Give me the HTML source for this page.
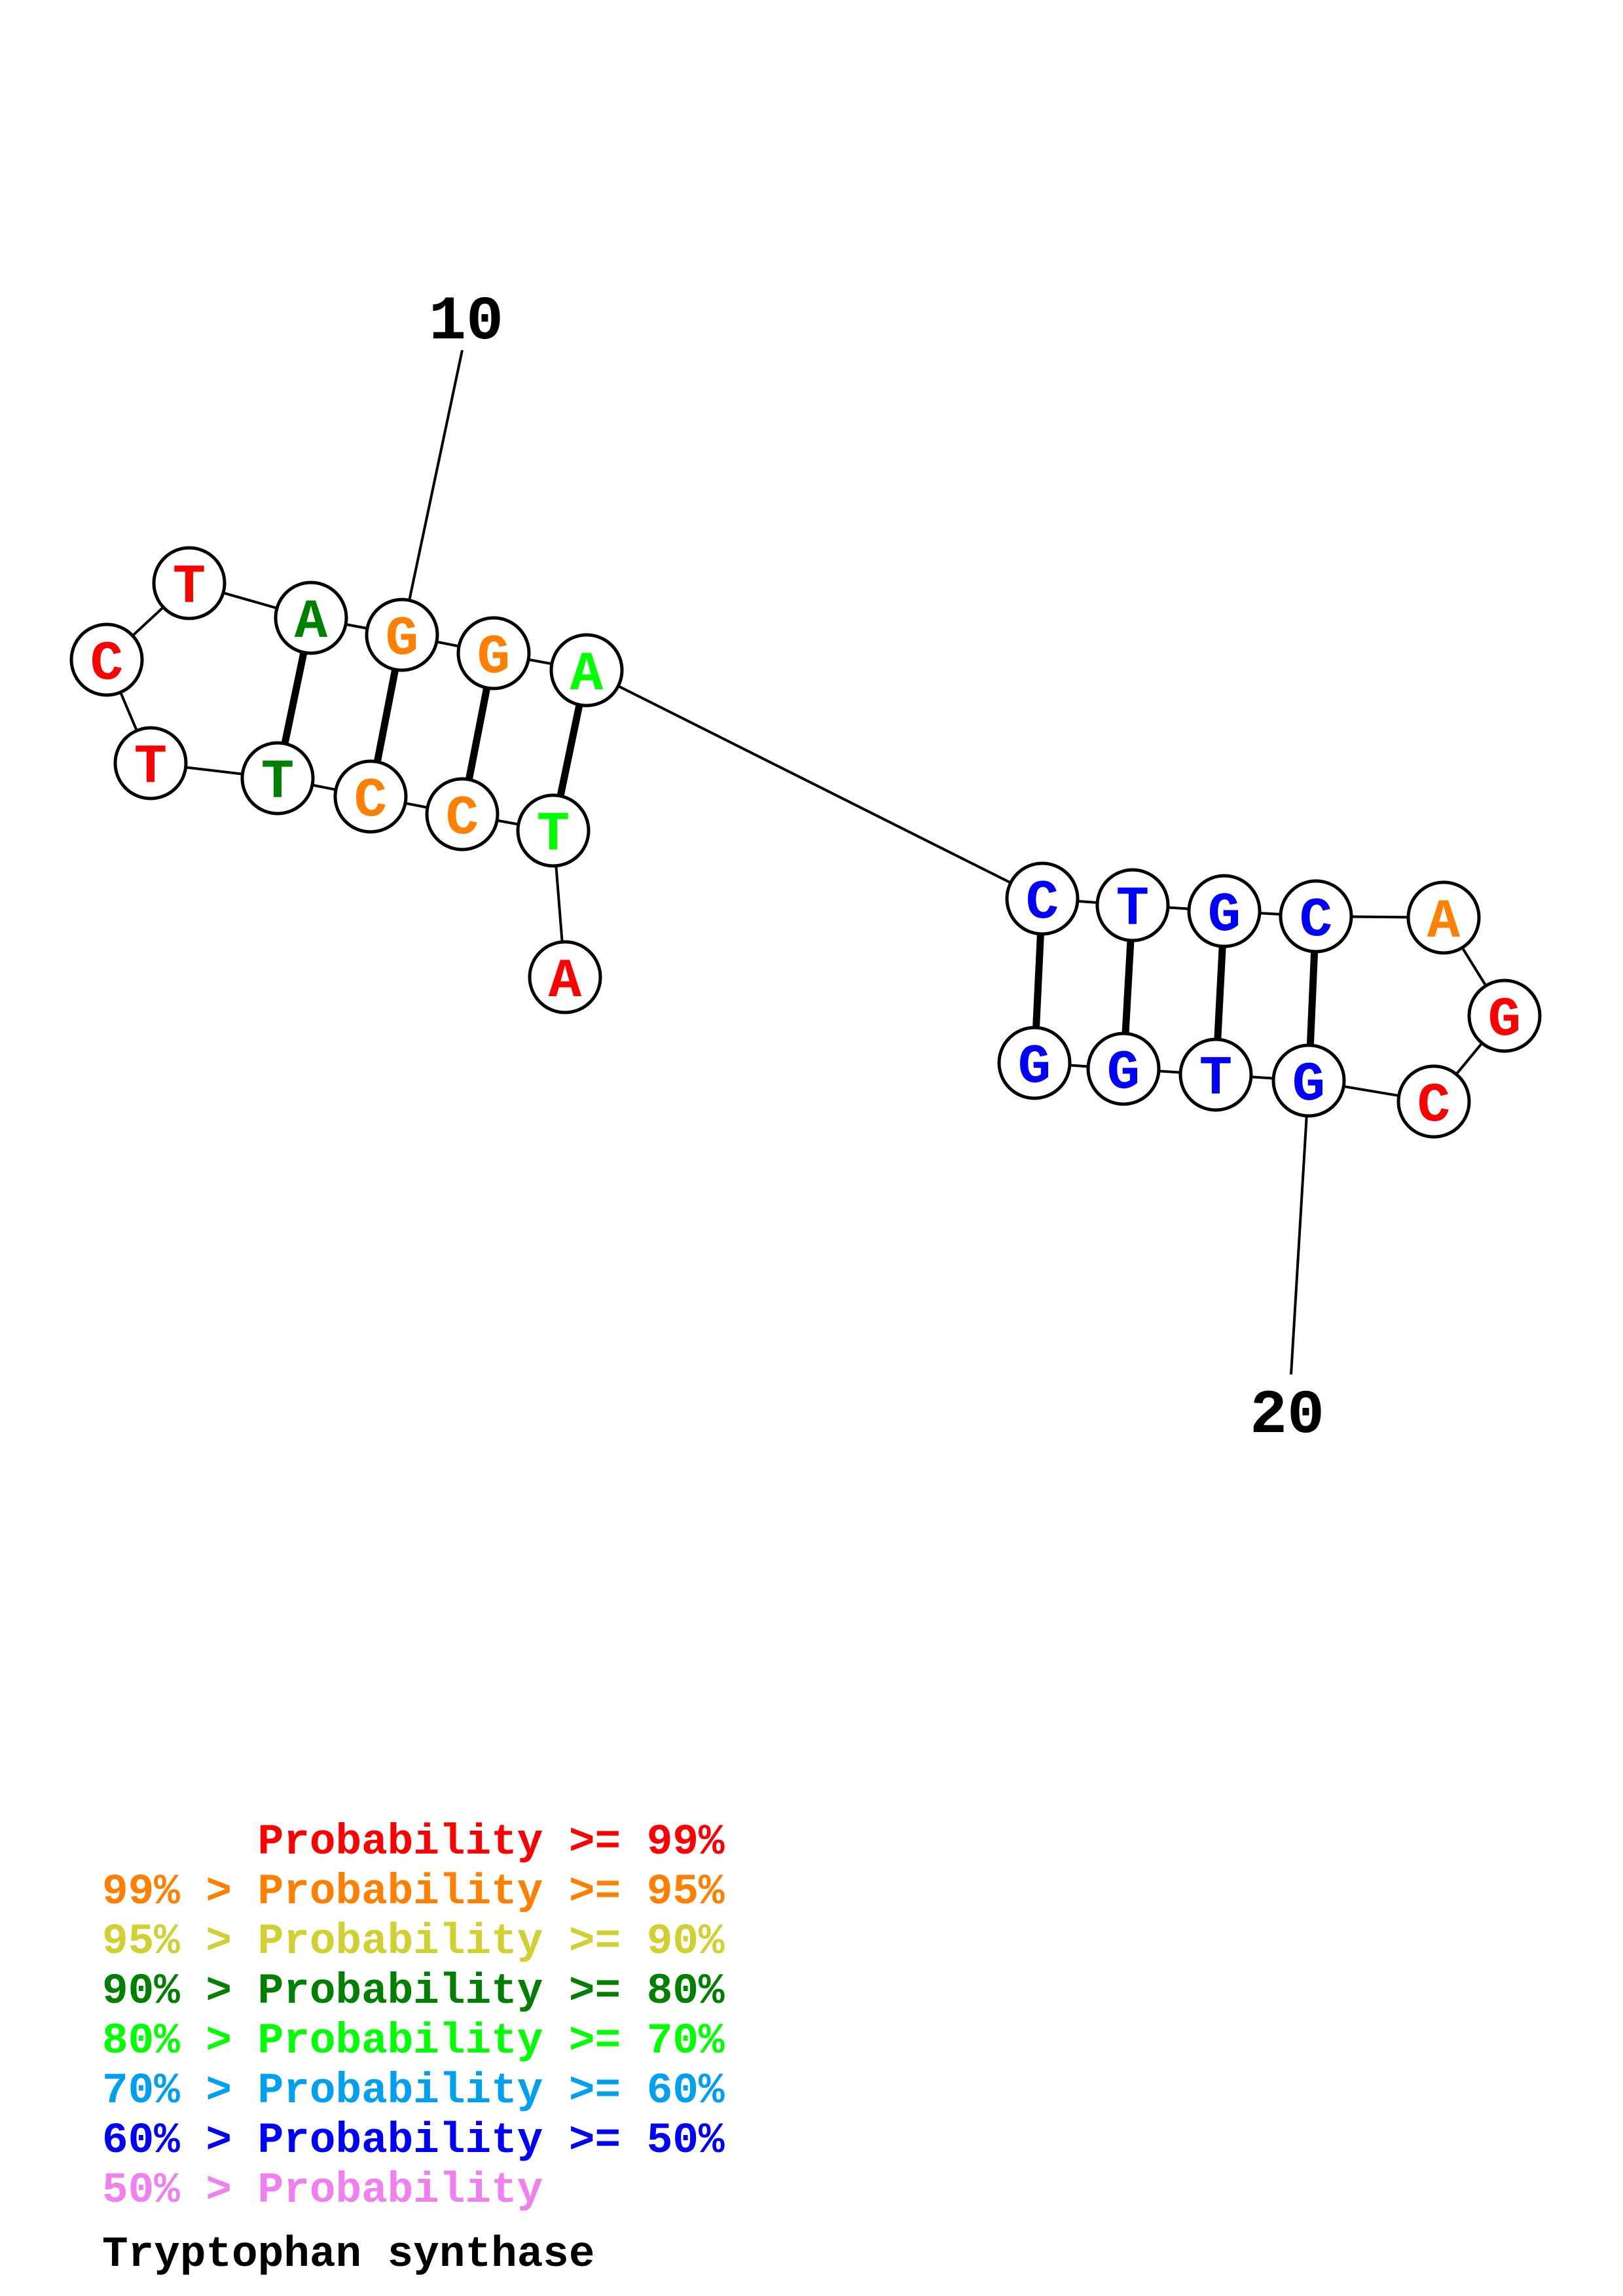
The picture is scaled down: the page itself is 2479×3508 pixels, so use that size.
<!DOCTYPE html>
<html><head><meta charset="utf-8"><style>html,body{margin:0;padding:0;background:#fff}svg{display:block}.pre{white-space:pre}</style></head>
<body>
<svg width="2479" height="3508" viewBox="0 0 2479 3508" xmlns="http://www.w3.org/2000/svg">
<rect width="2479" height="3508" fill="#fff"/>
<g stroke="#000" stroke-width="4" fill="none">
<polyline points="863,1493 845,1269 706,1244 566,1217 424,1189 230,1166 163,1008 289,891 475,944 614,970 754,998 896,1024 1592,1373 1730,1383 1870,1392 2010,1400 2205,1402 2298,1552 2190,1683 1999,1651 1857,1642 1716,1633 1580,1624"/>
<line x1="614" y1="970" x2="706" y2="535"/>
<line x1="1999" y1="1651" x2="1972" y2="2100"/>
</g>
<g stroke="#000" stroke-width="11">
<line x1="475" y1="944" x2="424" y2="1189"/>
<line x1="614" y1="970" x2="566" y2="1217"/>
<line x1="754" y1="998" x2="706" y2="1244"/>
<line x1="896" y1="1024" x2="845" y2="1269"/>
<line x1="1592" y1="1373" x2="1580" y2="1624"/>
<line x1="1730" y1="1383" x2="1716" y2="1633"/>
<line x1="1870" y1="1392" x2="1857" y2="1642"/>
<line x1="2010" y1="1400" x2="1999" y2="1651"/>
</g>
<g stroke="#000" stroke-width="5" fill="#fff">
<circle cx="863" cy="1493" r="54"/><circle cx="845" cy="1269" r="54"/><circle cx="706" cy="1244" r="54"/><circle cx="566" cy="1217" r="54"/><circle cx="424" cy="1189" r="54"/><circle cx="230" cy="1166" r="54"/><circle cx="163" cy="1008" r="54"/><circle cx="289" cy="891" r="54"/><circle cx="475" cy="944" r="54"/><circle cx="614" cy="970" r="54"/><circle cx="754" cy="998" r="54"/><circle cx="896" cy="1024" r="54"/>
<circle cx="1592" cy="1373" r="54"/><circle cx="1730" cy="1383" r="54"/><circle cx="1870" cy="1392" r="54"/><circle cx="2010" cy="1400" r="54"/><circle cx="2205" cy="1402" r="54"/><circle cx="2298" cy="1552" r="54"/><circle cx="2190" cy="1683" r="54"/><circle cx="1999" cy="1651" r="54"/><circle cx="1857" cy="1642" r="54"/><circle cx="1716" cy="1633" r="54"/><circle cx="1580" cy="1624" r="54"/>
</g>
<g font-family="Liberation Mono, monospace" font-weight="bold" font-size="84" text-anchor="middle">
<text x="863" y="1522" fill="#f00">A</text>
<text x="845" y="1298" fill="#0f0">T</text>
<text x="706" y="1273" fill="#ff8000">C</text>
<text x="566" y="1246" fill="#ff8000">C</text>
<text x="424" y="1218" fill="#008000">T</text>
<text x="230" y="1195" fill="#f00">T</text>
<text x="163" y="1037" fill="#f00">C</text>
<text x="289" y="920" fill="#f00">T</text>
<text x="475" y="973" fill="#008000">A</text>
<text x="614" y="999" fill="#ff8000">G</text>
<text x="754" y="1027" fill="#ff8000">G</text>
<text x="896" y="1053" fill="#0f0">A</text>
<text x="1592" y="1402" fill="#00f">C</text>
<text x="1730" y="1412" fill="#00f">T</text>
<text x="1870" y="1421" fill="#00f">G</text>
<text x="2010" y="1429" fill="#00f">C</text>
<text x="2205" y="1431" fill="#ff8000">A</text>
<text x="2298" y="1581" fill="#f00">G</text>
<text x="2190" y="1712" fill="#f00">C</text>
<text x="1999" y="1680" fill="#00f">G</text>
<text x="1857" y="1671" fill="#00f">T</text>
<text x="1716" y="1662" fill="#00f">G</text>
<text x="1580" y="1653" fill="#00f">G</text>
</g>
<g font-family="Liberation Mono, monospace" font-weight="bold" font-size="95" text-anchor="middle" fill="#000">
<text x="712" y="517">10</text>
<text x="1966" y="2188">20</text>
</g>
<g font-family="Liberation Mono, monospace" font-weight="bold" font-size="66">
<text class="pre" x="156" y="2832" fill="#f00">      Probability &gt;= 99%</text>
<text class="pre" x="156" y="2908" fill="#ff8000">99% &gt; Probability &gt;= 95%</text>
<text class="pre" x="156" y="2984" fill="#d0d030">95% &gt; Probability &gt;= 90%</text>
<text class="pre" x="156" y="3060" fill="#008000">90% &gt; Probability &gt;= 80%</text>
<text class="pre" x="156" y="3136" fill="#0f0">80% &gt; Probability &gt;= 70%</text>
<text class="pre" x="156" y="3212" fill="#00a0f0">70% &gt; Probability &gt;= 60%</text>
<text class="pre" x="156" y="3288" fill="#00f">60% &gt; Probability &gt;= 50%</text>
<text class="pre" x="156" y="3364" fill="#f080f0">50% &gt; Probability</text>
<text class="pre" x="156" y="3462" fill="#000" font-size="66">Tryptophan synthase</text>
</g>
</svg>
</body></html>
